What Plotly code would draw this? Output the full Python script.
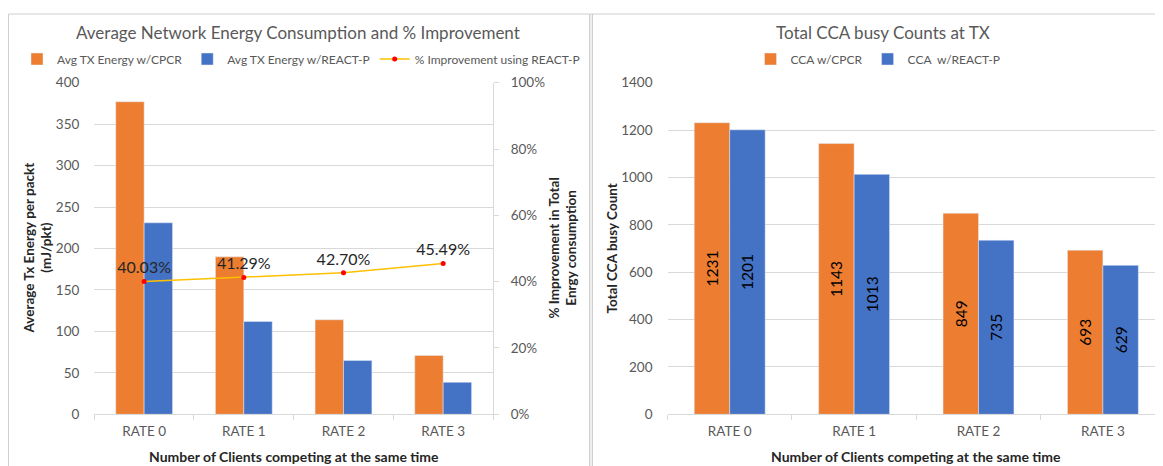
import plotly.graph_objects as go

categories = ["RATE 0", "RATE 1", "RATE 2", "RATE 3"]
energy_cpcr = [377, 190, 114, 71]
energy_react = [231, 112, 65, 38.6]
improvement = [40.03, 41.29, 42.70, 45.49]
improvement_labels = ["40.03%", "41.29%", "42.70%", "45.49%"]
cca_cpcr = [1231, 1143, 849, 693]
cca_react = [1201, 1013, 735, 629]

# page body has an 8px margin: figure sized to fit the window from (8, 8)
OFF = 8
W, H = 1163 - OFF, 466 - OFF
ORANGE = "#ED7D31"
BLUE = "#4472C4"
GRAY = "#595959"
GRID = "#D9D9D9"
DARK = "#262626"
FONT = "Lato"


def px(x):
    return (x - OFF) / W


def py(y):
    return 1 - (y - OFF) / H


fig = go.Figure()

fig.add_trace(go.Bar(x=categories, y=energy_cpcr, name="Avg TX Energy w/CPCR",
                     marker=dict(color=ORANGE), xaxis="x", yaxis="y", legend="legend"))
fig.add_trace(go.Bar(x=categories, y=energy_react, name="Avg TX Energy w/REACT-P",
                     marker=dict(color=BLUE), xaxis="x", yaxis="y", legend="legend"))
fig.add_trace(go.Scatter(x=categories, y=improvement, name="% Improvement using REACT-P",
                         mode="lines+markers+text", text=improvement_labels,
                         textposition="top center",
                         textfont=dict(size=16, color=DARK, family=FONT),
                         line=dict(color="#FFC000", width=1.5),
                         marker=dict(color="#FF0000", size=5),
                         xaxis="x", yaxis="y2", legend="legend"))

fig.add_trace(go.Bar(x=categories, y=cca_cpcr, name="CCA w/CPCR",
                     marker=dict(color=ORANGE), text=[str(v) for v in cca_cpcr],
                     textposition="inside", insidetextanchor="middle", textangle=-90,
                     textfont=dict(size=15.5, color="#000000", family=FONT),
                     xaxis="x2", yaxis="y3", legend="legend2"))
fig.add_trace(go.Bar(x=categories, y=cca_react, name="CCA  w/REACT-P",
                     marker=dict(color=BLUE), text=[str(v) for v in cca_react],
                     textposition="inside", insidetextanchor="middle", textangle=-90,
                     textfont=dict(size=15.5, color="#000000", family=FONT),
                     xaxis="x2", yaxis="y3", legend="legend2"))

ydom = [py(414.3), py(82.7)]
tickfont = dict(size=13.5, color=GRAY, family=FONT)
legfont = dict(size=12, color=GRAY, family=FONT)

# right panel is cut by the window edge: domain ends at the edge, range trimmed to match
cat_w = 124.4
r_end = 3.5 - (1165.1 - 1163) / cat_w

fig.update_layout(
    width=W, height=H,
    margin=dict(l=0, r=0, t=0, b=0, pad=0, autoexpand=False),
    paper_bgcolor="white", plot_bgcolor="white",
    font=dict(family=FONT, color=GRAY),
    barmode="group", bargap=0.43, bargroupgap=0,
    showlegend=True,
    xaxis=dict(domain=[px(94.3), px(493)], anchor="y", tickfont=tickfont, automargin=False,
               range=[-0.5, 3.5],
               showline=True, linecolor=GRID, ticks="outside", tickcolor=GRID,
               ticklen=5, tickson="boundaries", showgrid=False, ticklabelstandoff=4),
    yaxis=dict(domain=ydom, range=[0, 400], dtick=50, tickfont=tickfont, automargin=False,
               gridcolor=GRID, showline=False, zeroline=False, ticks="",
               ticklabelstandoff=14),
    yaxis2=dict(domain=ydom, range=[0, 100], dtick=20, overlaying="y", side="right",
                anchor="x", ticksuffix="%", tickfont=tickfont, showgrid=False,
                automargin=False,
                showline=True, linecolor=GRID, ticks="outside", tickcolor=GRID,
                ticklen=5, zeroline=False, ticklabelstandoff=9),
    xaxis2=dict(domain=[px(667.5), 1], anchor="y3", tickfont=tickfont, automargin=False,
                range=[-0.5, r_end],
                showline=True, linecolor=GRID, ticks="outside", tickcolor=GRID,
                ticklen=5, tickson="boundaries", showgrid=False, ticklabelstandoff=4),
    yaxis3=dict(domain=ydom, range=[0, 1400], dtick=200, anchor="x2", tickfont=tickfont,
                automargin=False,
                gridcolor=GRID, showline=False, zeroline=False, ticks="",
                ticklabelstandoff=14),
    legend=dict(orientation="h", x=px(301), y=py(59), xanchor="center", yanchor="middle",
                font=legfont, itemwidth=30,
                bgcolor="rgba(0,0,0,0)", traceorder="normal"),
    legend2=dict(orientation="h", x=px(878), y=py(59), xanchor="center", yanchor="middle",
                 font=legfont, itemwidth=30,
                 bgcolor="rgba(0,0,0,0)", traceorder="normal"),
)

annotations = [
    dict(text="Average Network Energy Consumption and % Improvement", x=px(298), y=py(33),
         font=dict(size=17, color=GRAY, family=FONT)),
    dict(text="Total CCA busy Counts at TX", x=px(883), y=py(33),
         font=dict(size=17, color=GRAY, family=FONT)),
    dict(text="<b>Number of Clients competing at the same time</b>", x=px(294), y=py(456),
         font=dict(size=14, color=DARK, family=FONT)),
    dict(text="<b>Number of Clients competing at the same time</b>", x=px(916), y=py(456),
         font=dict(size=14, color=DARK, family=FONT)),
    dict(text="<b>Average Tx Energy per packt<br>(mJ/pkt)</b>", x=px(37), y=py(248.5),
         textangle=-90, font=dict(size=13.5, color=DARK, family=FONT)),
    dict(text="<b>% Improvement in Total<br>Enrgy consumption</b>", x=px(562), y=py(248.5),
         textangle=-90, font=dict(size=13.5, color=DARK, family=FONT)),
    dict(text="<b>Total CCA busy Count</b>", x=px(611), y=py(248.5),
         textangle=-90, font=dict(size=13.5, color=DARK, family=FONT)),
]
for a in annotations:
    a.update(xref="paper", yref="paper", showarrow=False, xanchor="center", yanchor="middle")
fig.update_layout(annotations=annotations)

border = "#CFCFCF"
shapes = [
    dict(type="rect", x0=px(589.5), x1=px(592.5), y0=py(14), y1=0,
         fillcolor="#EEEEEE", line=dict(width=0)),
    dict(type="line", x0=px(8.5), x1=1, y0=py(14), y1=py(14), line=dict(color=border, width=1)),
    dict(type="line", x0=px(8.5), x1=px(8.5), y0=py(14), y1=0, line=dict(color=border, width=1)),
    dict(type="line", x0=px(589.5), x1=px(589.5), y0=py(14), y1=0, line=dict(color=border, width=1)),
    dict(type="line", x0=px(592.5), x1=px(592.5), y0=py(14), y1=0, line=dict(color=border, width=1)),
]
for s in shapes:
    s.update(xref="paper", yref="paper", layer="below")
fig.update_layout(shapes=shapes)

fig.write_html("out.html")
